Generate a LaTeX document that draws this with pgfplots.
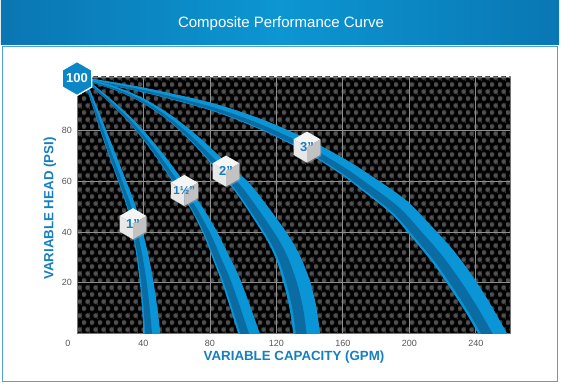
\documentclass[border=0pt]{standalone}
\usepackage{pgfplots}
\pgfplotsset{compat=1.18}
\usepackage{fontspec}
\setmainfont{Liberation Sans}
\usetikzlibrary{patterns}
\definecolor{bandlight}{HTML}{0A95D6}
\definecolor{banddark}{HTML}{0A6CA3}
\definecolor{axisblue}{HTML}{167FBE}
\definecolor{tickgray}{HTML}{555555}
\definecolor{gridgray}{HTML}{8E8E8E}
\definecolor{tbleft}{HTML}{0A76B2}
\definecolor{tbmid}{HTML}{0C96D2}
\definecolor{tbright}{HTML}{0977B3}
\definecolor{panelblue}{HTML}{4FA3D6}
\definecolor{badgeblue}{HTML}{0B86C6}
\definecolor{cubetext}{HTML}{1A7DBF}
\definecolor{dotouter}{HTML}{2A2A2A}
\definecolor{dotinner}{HTML}{515151}
\pgfdeclarepatterninherentlycolored{hexdots}
{\pgfpointorigin}{\pgfqpoint{8.3pt}{14.4pt}}
{\pgfqpoint{8.3pt}{14.4pt}}
{
  \pgfsetfillcolor{dotouter}
  \pgfpathcircle{\pgfqpoint{2.075pt}{3.6pt}}{3.0pt}
  \pgfusepath{fill}
  \pgfpathcircle{\pgfqpoint{6.225pt}{10.8pt}}{3.0pt}
  \pgfusepath{fill}
  \pgfsetfillcolor{dotinner}
  \pgfpathcircle{\pgfqpoint{2.075pt}{3.6pt}}{2.1pt}
  \pgfusepath{fill}
  \pgfpathcircle{\pgfqpoint{6.225pt}{10.8pt}}{2.1pt}
  \pgfusepath{fill}
}
\newcommand{\cubelabel}[3]{%
  \begin{scope}[shift={(#1)}]
    \fill[black!35,opacity=0.5] ([shift={(1pt,-1.2pt)}]0,15.5pt) -- ([shift={(1pt,-1.2pt)}]-13.42pt,7.75pt) -- ([shift={(1pt,-1.2pt)}]-13.42pt,-7.75pt) -- ([shift={(1pt,-1.2pt)}]0,-15.5pt) -- ([shift={(1pt,-1.2pt)}]13.42pt,-7.75pt) -- ([shift={(1pt,-1.2pt)}]13.42pt,7.75pt) -- cycle;
    \fill[black!4] (0,15.5pt) -- (-13.42pt,7.75pt) -- (0,0) -- (13.42pt,7.75pt) -- cycle;
    \fill[black!9] (-13.42pt,7.75pt) -- (-13.42pt,-7.75pt) -- (0,-15.5pt) -- (0,0) -- cycle;
    \fill[black!24] (0,0) -- (0,-15.5pt) -- (13.42pt,-7.75pt) -- (13.42pt,7.75pt) -- cycle;
    \node[text=cubetext, font=\bfseries\fontsize{#3}{#3}\selectfont, inner sep=0pt] at (0,-0.3pt) {#2};
  \end{scope}}
\begin{document}
\begin{tikzpicture}
\path[use as bounding box] (-77pt,-49.3pt) rectangle (484pt,333.7pt);
\fill[white] (-77pt,-49.3pt) rectangle (484pt,333.7pt);
\draw[panelblue, line width=0.9pt] (-75pt,-47.3pt) rectangle (480pt,287.7pt);
\shade[left color=tbleft, right color=tbright, middle color=tbmid] (-76pt,288.7pt) rectangle (482pt,333.7pt);
\node[text=white, font=\fontsize{15}{18}\selectfont] at (204pt,310pt) {Composite Performance Curve};
\begin{axis}[
  at={(0pt,0pt)}, anchor=south west,
  scale only axis, width=433.7pt, height=256.7pt,
  xmin=0, xmax=261, ymin=0, ymax=101,
  xtick={40,80,120,160,200,240},
  ytick={20,40,60,80},
  extra x ticks={0},
  extra x tick style={grid=none, xticklabel style={xshift=-9pt}},
  major tick length=0pt,
  grid=major,
  major grid style={draw=gridgray, line width=0.8pt},
  axis line style={draw=black!55, line width=0.8pt},
  axis background/.style={fill=black, postaction={pattern=hexdots}},
  tick label style={font=\fontsize{9}{10}\selectfont, text=tickgray},
  /pgf/number format/assume math mode=true,
  xticklabel style={yshift=-3pt},
  yticklabel style={xshift=-1.5pt},
]
% 3 inch
\addplot[fill=bandlight, draw=none, smooth] coordinates {
(8.20,100.45) (40.43,96.80) (80.89,90.86) (111.47,84.31) (140.14,76.12) (162.91,68.06) (175.91,62.64) (197.65,52.74) (212.83,42.67) (226.14,33.07) (238.01,22.72) (248.05,12.41) (256.77,2.47) (260.18,-1.47) (263.59,-5.41)
(250.35,-10.31) (246.94,-6.39) (243.53,-2.47) (234.99,7.27) (225.37,17.14) (214.78,27.25) (202.81,36.81) (189.51,46.94) (169.93,57.22) (158.05,63.08) (136.70,71.82) (109.19,80.67) (79.59,88.02) (39.81,94.94) (7.84,99.16)};
\addplot[fill=banddark, draw=none, smooth] coordinates {
(8.02,99.80) (40.12,95.87) (80.24,89.44) (110.33,82.49) (138.42,73.97) (160.48,65.57) (172.92,59.93) (193.58,49.84) (207.82,39.74) (220.46,30.16) (231.69,19.93) (241.52,9.84) (250.15,0) (253.56,-3.93) (256.97,-7.86)
(251.66,-9.82) (248.26,-5.90) (244.86,-1.98) (236.29,7.78) (226.63,17.70) (215.91,27.83) (203.81,37.40) (190.33,47.52) (170.53,57.76) (158.54,63.58) (137.05,72.25) (109.42,81.03) (79.72,88.30) (39.87,95.13) (7.88,99.28)};
% 2 inch
\addplot[fill=bandlight, draw=none, smooth] coordinates {
(7.26,100.17) (24.46,96.93) (40.80,92.34) (57.26,85.66) (74.08,76.96) (92.40,65.74) (104.59,58.59) (123.97,41.84) (133.22,31.99) (139.92,21.34) (143.91,11.02) (146.16,0.72) (146.97,-3.24) (147.78,-7.20)
(131.88,-8.52) (131.07,-4.62) (130.26,-0.72) (128.12,9.18) (124.88,18.52) (120.34,28.33) (113.55,37.64) (96.81,54.45) (86.94,62.26) (70.36,74.38) (55.08,83.78) (39.44,90.74) (23.68,95.59) (6.79,99.17)};
\addplot[fill=banddark, draw=none, smooth] coordinates {
(7.02,99.67) (24.07,96.26) (40.12,91.54) (56.17,84.72) (72.22,75.67) (89.67,64.00) (100.70,56.52) (118.76,39.74) (126.78,30.16) (132.40,19.93) (136.01,10.10) (138.21,0) (139.02,-3.93) (139.83,-7.86)
(133.47,-8.39) (132.66,-4.48) (131.85,-0.57) (129.69,9.36) (126.39,18.80) (121.63,28.69) (114.59,38.06) (97.59,54.87) (87.48,62.61) (70.73,74.64) (55.30,83.97) (39.58,90.90) (23.76,95.72) (6.83,99.27)};
% 1.5 inch
\addplot[fill=bandlight, draw=none, smooth] coordinates {
(6.48,99.76) (20.80,92.07) (35.28,83.33) (49.89,72.36) (67.05,57.52) (74.64,50.70) (83.65,40.89) (90.88,31.41) (98.24,21.34) (109.46,1.18) (111.12,-2.84) (112.78,-6.86)
(100.70,-8.86) (99.13,-5.02) (97.56,-1.18) (87.92,18.80) (82.04,28.91) (76.43,38.59) (68.98,48.44) (62.13,55.26) (46.39,70.60) (32.92,81.91) (19.32,91.01) (5.56,99.06)};
\addplot[fill=banddark, draw=none, smooth] coordinates {
(6.02,99.41) (20.06,91.54) (34.10,82.62) (48.14,71.48) (64.59,56.39) (71.81,49.57) (80.04,39.74) (86.46,30.16) (93.08,20.07) (103.51,0) (105.12,-3.93) (106.73,-7.86)
(101.89,-8.66) (100.32,-4.80) (98.75,-0.94) (88.95,19.05) (82.92,29.16) (77.15,38.82) (69.55,48.67) (62.62,55.49) (46.74,70.78) (33.15,82.05) (19.46,91.11) (5.65,99.13)};
% 1 inch
\addplot[fill=bandlight, draw=none, smooth] coordinates {
(5.68,99.57) (11.07,90.74) (17.25,80.64) (23.64,69.99) (29.25,60.72) (35.20,50.32) (39.54,40.32) (43.07,30.58) (46.01,20.56) (48.32,10.41) (50.14,0.25) (50.55,-3.71) (50.96,-7.67)
(40.94,-8.05) (40.54,-4.15) (40.14,-0.25) (39.14,9.79) (37.85,19.84) (35.97,29.74) (33.48,39.43) (30.20,49.36) (24.91,59.68) (19.70,69.03) (14.05,79.88) (8.99,90.24) (4.36,99.25)};
\addplot[fill=banddark, draw=none, smooth] coordinates {
(5.02,99.41) (10.03,90.49) (15.65,80.26) (21.67,69.51) (27.08,60.20) (32.70,49.84) (36.51,39.87) (39.52,30.16) (41.93,20.20) (43.73,10.10) (45.14,0) (45.54,-3.93) (45.94,-7.86)
(41.94,-8.02) (41.54,-4.11) (41.14,-0.20) (40.06,9.85) (38.67,19.91) (36.68,29.83) (34.08,39.51) (30.70,49.46) (25.35,59.78) (20.09,69.12) (14.37,79.96) (9.20,90.29) (4.49,99.28)};
\coordinate (b100) at (axis cs:0,100.4);
\coordinate (c1) at (axis cs:33.70,43.28);
\coordinate (c15) at (axis cs:64.59,56.39);
\coordinate (c2) at (axis cs:89.67,64.00);
\coordinate (c3) at (axis cs:138.42,73.44);
\end{axis}
% badge 100
\begin{scope}[shift={(b100)}]
  \fill[badgeblue, draw=white, line width=1.3pt] (90:17pt) -- (150:17pt) -- (210:17pt) -- (270:17pt) -- (330:17pt) -- (30:17pt) -- cycle;
  \node[text=white, font=\bfseries\fontsize{13}{13}\selectfont, inner sep=0pt] at (0,0) {100};
\end{scope}
\cubelabel{c1}{1”}{13}
\cubelabel{c15}{1½”}{11.5}
\cubelabel{c2}{2”}{13}
\cubelabel{c3}{3”}{13}
\node[text=axisblue, font=\bfseries\fontsize{13.3}{15}\selectfont] at (217pt,-23.3pt) {VARIABLE CAPACITY (GPM)};
\node[text=axisblue, font=\bfseries\fontsize{13.3}{15}\selectfont, rotate=90] at (-27pt,125.2pt) {VARIABLE HEAD (PSI)};
\end{tikzpicture}
\end{document}
